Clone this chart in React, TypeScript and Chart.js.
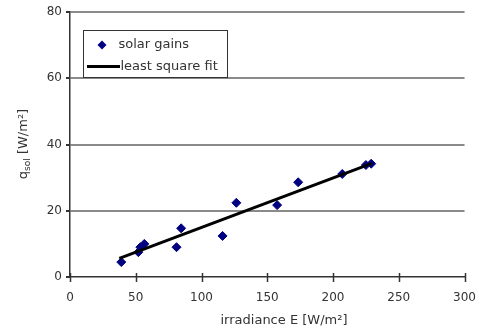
import React, { useEffect, useRef } from 'react';
import { Chart, registerables } from 'chart.js';

Chart.register(...registerables);

const solarX = [39, 52, 53.5, 56.5, 81, 84.5, 116, 126.5, 157.5, 173.5, 207, 225, 229];
const solarY = [4.5, 7.5, 9, 10, 9, 14.7, 12.4, 22.4, 21.7, 28.6, 31.1, 33.8, 34.2];
const fitX = [37.5, 229.5];
const fitY = [5.6, 34.3];
const xTicks = [0, 50, 100, 150, 200, 250, 300];
const yTicks = [0, 20, 40, 60, 80];
const seriesNames = ['solar gains', 'least square fit'];
const xTitle = 'irradiance E [W/m²]';
const yTitleMain = 'q';
const yTitleSub = 'sol';
const yTitleUnit = ' [W/m²]';

const FONT = "'DejaVu Sans', sans-serif";
const TEXT = '#333';
const NAVY = '#000080';

const decorPlugin = {
  id: 'decor',
  afterDraw(chart: any) {
    const { ctx, chartArea } = chart;
    const xs = chart.scales.x;
    ctx.save();
    // x tick marks crossing the axis
    ctx.strokeStyle = TEXT;
    ctx.lineWidth = 1.5;
    for (const v of xTicks) {
      const px = Math.round(xs.getPixelForValue(v)) + 0.5;
      ctx.beginPath();
      ctx.moveTo(px, chartArea.bottom - 4);
      ctx.lineTo(px, chartArea.bottom + 5);
      ctx.stroke();
    }
    // legend box
    const lx = chartArea.left + 13.5;
    const ly = chartArea.top + 18.5;
    ctx.fillStyle = '#fff';
    ctx.fillRect(lx, ly, 144, 47);
    ctx.strokeStyle = TEXT;
    ctx.lineWidth = 1;
    ctx.strokeRect(lx, ly, 144, 47);
    // marker
    const mx = lx + 18.5;
    const my = ly + 14.5;
    ctx.fillStyle = NAVY;
    ctx.beginPath();
    ctx.moveTo(mx, my - 4.5);
    ctx.lineTo(mx + 4.5, my);
    ctx.lineTo(mx, my + 4.5);
    ctx.lineTo(mx - 4.5, my);
    ctx.closePath();
    ctx.fill();
    ctx.font = `13px ${FONT}`;
    ctx.fillStyle = TEXT;
    ctx.textAlign = 'left';
    ctx.textBaseline = 'middle';
    ctx.fillText(seriesNames[0], lx + 35, my);
    // line sample
    const ly2 = ly + 36;
    ctx.strokeStyle = '#000';
    ctx.lineWidth = 3;
    ctx.beginPath();
    ctx.moveTo(lx + 3.5, ly2);
    ctx.lineTo(lx + 36.5, ly2);
    ctx.stroke();
    ctx.fillStyle = TEXT;
    ctx.fillText(seriesNames[1], lx + 37, ly2);
    // x title
    ctx.textAlign = 'center';
    ctx.fillText(xTitle, 284, 321);
    // y title, rotated
    ctx.translate(24, 144);
    ctx.rotate(-Math.PI / 2);
    ctx.font = `13px ${FONT}`;
    const wMain = ctx.measureText(yTitleMain).width;
    ctx.font = `9px ${FONT}`;
    const wSub = ctx.measureText(yTitleSub).width;
    ctx.font = `13px ${FONT}`;
    const wUnit = ctx.measureText(yTitleUnit).width;
    let sx = -(wMain + wSub + wUnit) / 2;
    ctx.textAlign = 'left';
    ctx.fillText(yTitleMain, sx, 0);
    sx += wMain;
    ctx.font = `9px ${FONT}`;
    ctx.fillText(yTitleSub, sx, 4);
    sx += wSub;
    ctx.font = `13px ${FONT}`;
    ctx.fillText(yTitleUnit, sx, 0);
    ctx.restore();
  },
};

export default function App() {
  const ref = useRef<HTMLCanvasElement | null>(null);
  useEffect(() => {
    document.body.style.margin = '0';
    const canvas = ref.current;
    if (!canvas) return;
    const chart = new Chart(canvas, {
      type: 'scatter',
      data: {
        datasets: [
          {
            type: 'line',
            label: seriesNames[1],
            data: fitX.map((x, i) => ({ x, y: fitY[i] })),
            borderColor: '#000',
            borderWidth: 3,
            pointRadius: 0,
            showLine: true,
            fill: false,
          } as any,
          {
            type: 'scatter',
            label: seriesNames[0],
            data: solarX.map((x, i) => ({ x, y: solarY[i] })),
            pointStyle: 'rectRot',
            pointRadius: 4.5,
            backgroundColor: NAVY,
            borderColor: NAVY,
            borderWidth: 1,
          },
        ],
      },
      options: {
        responsive: false,
        animation: false,
        events: [],
        layout: { padding: { top: 12, right: 14, left: 0, bottom: 0 } },
        plugins: { legend: { display: false }, tooltip: { enabled: false } },
        scales: {
          x: {
            type: 'linear',
            min: 0,
            max: 300,
            afterBuildTicks: (s: any) => {
              s.ticks = xTicks.map((v) => ({ value: v }));
            },
            afterFit: (s: any) => {
              s.height = 52;
            },
            grid: { display: true, drawOnChartArea: false, drawTicks: false },
            border: { display: true, color: TEXT, width: 1.5 },
            ticks: { padding: 14, color: TEXT, font: { family: FONT, size: 12 }, maxRotation: 0 },
          },
          y: {
            type: 'linear',
            min: 0,
            max: 80,
            afterBuildTicks: (s: any) => {
              s.ticks = yTicks.map((v) => ({ value: v }));
            },
            afterFit: (s: any) => {
              s.width = 70;
            },
            grid: {
              color: (c: any) => (c.tick && c.tick.value === 0 ? 'rgba(0,0,0,0)' : '#8a8a8a'),
              lineWidth: 2,
              tickColor: TEXT,
              tickLength: 4,
            },
            border: { display: true, color: TEXT, width: 1.5 },
            ticks: { padding: 4, color: TEXT, font: { family: FONT, size: 12 } },
          },
        },
      },
      plugins: [decorPlugin],
    });
    return () => chart.destroy();
  }, []);
  return (
    <div style={{ position: 'absolute', left: 0, top: 0, width: 490, height: 329 }}>
      <canvas ref={ref} width={490} height={329} />
    </div>
  );
}
